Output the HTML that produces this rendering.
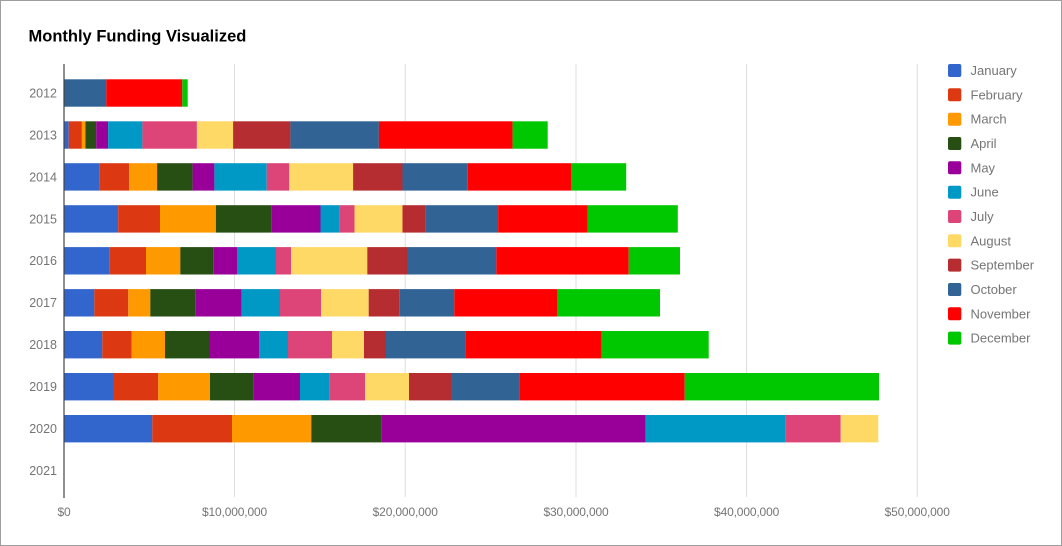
<!DOCTYPE html>
<html><head><meta charset="utf-8"><style>
html,body{margin:0;padding:0;background:#fff;}
svg{display:block;}
text{font-family:"Liberation Sans",Arial,sans-serif;}
</style></head><body>
<svg width="1062" height="546" viewBox="0 0 1062 546" xmlns="http://www.w3.org/2000/svg">
<rect x="0" y="0" width="1062" height="546" fill="#fff"/>
<rect x="0.5" y="0.5" width="1061" height="545" fill="none" stroke="#9e9e9e" stroke-width="1"/>
<text x="28.5" y="41.7" font-size="16.5" font-weight="bold" fill="#000">Monthly Funding Visualized</text>
<g stroke="#dedede" stroke-width="1">
<line x1="234.5" y1="64" x2="234.5" y2="497"/>
<line x1="405.2" y1="64" x2="405.2" y2="497"/>
<line x1="576" y1="64" x2="576" y2="497"/>
<line x1="746.6" y1="64" x2="746.6" y2="497"/>
<line x1="917.2" y1="64" x2="917.2" y2="497"/>
</g>
<g font-size="12.5" fill="#757575" text-anchor="end">
<text x="57" y="97.4">2012</text>
<text x="57" y="139.4">2013</text>
<text x="57" y="181.3">2014</text>
<text x="57" y="223.3">2015</text>
<text x="57" y="265.2">2016</text>
<text x="57" y="307.2">2017</text>
<text x="57" y="349.2">2018</text>
<text x="57" y="391.1">2019</text>
<text x="57" y="433.1">2020</text>
<text x="57" y="475">2021</text>
</g>
<g font-size="12" fill="#757575" text-anchor="middle" letter-spacing="-0.15">
<text x="64" y="516">$0</text>
<text x="234.5" y="516">$10,000,000</text>
<text x="405.2" y="516">$20,000,000</text>
<text x="576" y="516">$30,000,000</text>
<text x="746.6" y="516">$40,000,000</text>
<text x="917.2" y="516">$50,000,000</text>
</g>
<g font-size="13" fill="#757575">
<rect x="948" y="64" width="13.3" height="13" rx="2" fill="#3366cc"/><text x="970.5" y="75">January</text>
<rect x="948" y="88.3" width="13.3" height="13" rx="2" fill="#dc3912"/><text x="970.5" y="99.3">February</text>
<rect x="948" y="112.7" width="13.3" height="13" rx="2" fill="#ff9900"/><text x="970.5" y="123.7">March</text>
<rect x="948" y="137" width="13.3" height="13" rx="2" fill="#274e13"/><text x="970.5" y="148">April</text>
<rect x="948" y="161.3" width="13.3" height="13" rx="2" fill="#990099"/><text x="970.5" y="172.3">May</text>
<rect x="948" y="185.7" width="13.3" height="13" rx="2" fill="#0099c6"/><text x="970.5" y="196.7">June</text>
<rect x="948" y="210" width="13.3" height="13" rx="2" fill="#dd4477"/><text x="970.5" y="221">July</text>
<rect x="948" y="234.3" width="13.3" height="13" rx="2" fill="#ffd966"/><text x="970.5" y="245.3">August</text>
<rect x="948" y="258.6" width="13.3" height="13" rx="2" fill="#b52d30"/><text x="970.5" y="269.6">September</text>
<rect x="948" y="283" width="13.3" height="13" rx="2" fill="#316395"/><text x="970.5" y="294">October</text>
<rect x="948" y="307.3" width="13.3" height="13" rx="2" fill="#ff0000"/><text x="970.5" y="318.3">November</text>
<rect x="948" y="331.6" width="13.3" height="13" rx="2" fill="#00c800"/><text x="970.5" y="342.6">December</text>
</g>
<g>
<!-- 2012 -->
<rect x="64" y="79.3" width="42.3" height="27.4" fill="#316395"/>
<rect x="106.3" y="79.3" width="76" height="27.4" fill="#ff0000"/>
<rect x="182.3" y="79.3" width="5.4" height="27.4" fill="#00c800"/>
<!-- 2013 -->
<rect x="64" y="121.3" width="4.7" height="27.4" fill="#3366cc"/>
<rect x="68.7" y="121.3" width="13.2" height="27.4" fill="#dc3912"/>
<rect x="81.9" y="121.3" width="3.6" height="27.4" fill="#ff9900"/>
<rect x="85.5" y="121.3" width="10.7" height="27.4" fill="#274e13"/>
<rect x="96.2" y="121.3" width="11.9" height="27.4" fill="#990099"/>
<rect x="108.1" y="121.3" width="34.3" height="27.4" fill="#0099c6"/>
<rect x="142.4" y="121.3" width="54.5" height="27.4" fill="#dd4477"/>
<rect x="196.9" y="121.3" width="36.2" height="27.4" fill="#ffd966"/>
<rect x="233.1" y="121.3" width="57.3" height="27.4" fill="#b52d30"/>
<rect x="290.4" y="121.3" width="88.5" height="27.4" fill="#316395"/>
<rect x="378.9" y="121.3" width="133.7" height="27.4" fill="#ff0000"/>
<rect x="512.6" y="121.3" width="35.1" height="27.4" fill="#00c800"/>
<!-- 2014 -->
<rect x="64" y="163.2" width="35.8" height="27.4" fill="#3366cc"/>
<rect x="99.8" y="163.2" width="29.4" height="27.4" fill="#dc3912"/>
<rect x="129.2" y="163.2" width="27.9" height="27.4" fill="#ff9900"/>
<rect x="157.1" y="163.2" width="35.5" height="27.4" fill="#274e13"/>
<rect x="192.6" y="163.2" width="21.8" height="27.4" fill="#990099"/>
<rect x="214.4" y="163.2" width="52.3" height="27.4" fill="#0099c6"/>
<rect x="266.7" y="163.2" width="22.6" height="27.4" fill="#dd4477"/>
<rect x="289.3" y="163.2" width="63.8" height="27.4" fill="#ffd966"/>
<rect x="353.1" y="163.2" width="49.4" height="27.4" fill="#b52d30"/>
<rect x="402.5" y="163.2" width="65.2" height="27.4" fill="#316395"/>
<rect x="467.7" y="163.2" width="103.3" height="27.4" fill="#ff0000"/>
<rect x="571" y="163.2" width="55.2" height="27.4" fill="#00c800"/>
<!-- 2015 -->
<rect x="64" y="205.2" width="54.1" height="27.4" fill="#3366cc"/>
<rect x="118.1" y="205.2" width="41.9" height="27.4" fill="#dc3912"/>
<rect x="160" y="205.2" width="55.9" height="27.4" fill="#ff9900"/>
<rect x="215.9" y="205.2" width="55.9" height="27.4" fill="#274e13"/>
<rect x="271.8" y="205.2" width="48.7" height="27.4" fill="#990099"/>
<rect x="320.5" y="205.2" width="18.6" height="27.4" fill="#0099c6"/>
<rect x="339.1" y="205.2" width="15.4" height="27.4" fill="#dd4477"/>
<rect x="354.5" y="205.2" width="48" height="27.4" fill="#ffd966"/>
<rect x="402.5" y="205.2" width="22.9" height="27.4" fill="#b52d30"/>
<rect x="425.4" y="205.2" width="72.7" height="27.4" fill="#316395"/>
<rect x="498.1" y="205.2" width="89.7" height="27.4" fill="#ff0000"/>
<rect x="587.8" y="205.2" width="90" height="27.4" fill="#00c800"/>
<!-- 2016 -->
<rect x="64" y="247.1" width="45.7" height="27.4" fill="#3366cc"/>
<rect x="109.7" y="247.1" width="36.3" height="27.4" fill="#dc3912"/>
<rect x="146" y="247.1" width="34.3" height="27.4" fill="#ff9900"/>
<rect x="180.3" y="247.1" width="33" height="27.4" fill="#274e13"/>
<rect x="213.3" y="247.1" width="23.7" height="27.4" fill="#990099"/>
<rect x="237" y="247.1" width="39" height="27.4" fill="#0099c6"/>
<rect x="276" y="247.1" width="15" height="27.4" fill="#dd4477"/>
<rect x="291" y="247.1" width="76.3" height="27.4" fill="#ffd966"/>
<rect x="367.3" y="247.1" width="39.7" height="27.4" fill="#b52d30"/>
<rect x="407" y="247.1" width="89.3" height="27.4" fill="#316395"/>
<rect x="496.3" y="247.1" width="132.4" height="27.4" fill="#ff0000"/>
<rect x="628.7" y="247.1" width="51.3" height="27.4" fill="#00c800"/>
<!-- 2017 -->
<rect x="64" y="289.1" width="30.3" height="27.4" fill="#3366cc"/>
<rect x="94.3" y="289.1" width="34" height="27.4" fill="#dc3912"/>
<rect x="128.3" y="289.1" width="22" height="27.4" fill="#ff9900"/>
<rect x="150.3" y="289.1" width="45" height="27.4" fill="#274e13"/>
<rect x="195.3" y="289.1" width="46.4" height="27.4" fill="#990099"/>
<rect x="241.7" y="289.1" width="38.3" height="27.4" fill="#0099c6"/>
<rect x="280" y="289.1" width="41" height="27.4" fill="#dd4477"/>
<rect x="321" y="289.1" width="47.7" height="27.4" fill="#ffd966"/>
<rect x="368.7" y="289.1" width="30.6" height="27.4" fill="#b52d30"/>
<rect x="399.3" y="289.1" width="55" height="27.4" fill="#316395"/>
<rect x="454.3" y="289.1" width="102.7" height="27.4" fill="#ff0000"/>
<rect x="557" y="289.1" width="103" height="27.4" fill="#00c800"/>
<!-- 2018 -->
<rect x="64" y="331" width="38.3" height="27.4" fill="#3366cc"/>
<rect x="102.3" y="331" width="29.4" height="27.4" fill="#dc3912"/>
<rect x="131.7" y="331" width="33.3" height="27.4" fill="#ff9900"/>
<rect x="165" y="331" width="45" height="27.4" fill="#274e13"/>
<rect x="210" y="331" width="49.3" height="27.4" fill="#990099"/>
<rect x="259.3" y="331" width="28.7" height="27.4" fill="#0099c6"/>
<rect x="288" y="331" width="44" height="27.4" fill="#dd4477"/>
<rect x="332" y="331" width="32" height="27.4" fill="#ffd966"/>
<rect x="364" y="331" width="22" height="27.4" fill="#b52d30"/>
<rect x="386" y="331" width="79.3" height="27.4" fill="#316395"/>
<rect x="465.3" y="331" width="136.4" height="27.4" fill="#ff0000"/>
<rect x="601.7" y="331" width="107" height="27.4" fill="#00c800"/>
<!-- 2019 -->
<rect x="64" y="373" width="49" height="27.4" fill="#3366cc"/>
<rect x="113" y="373" width="45.3" height="27.4" fill="#dc3912"/>
<rect x="158.3" y="373" width="51.7" height="27.4" fill="#ff9900"/>
<rect x="210" y="373" width="43.7" height="27.4" fill="#274e13"/>
<rect x="253.7" y="373" width="46.3" height="27.4" fill="#990099"/>
<rect x="300" y="373" width="29.7" height="27.4" fill="#0099c6"/>
<rect x="329.7" y="373" width="35.3" height="27.4" fill="#dd4477"/>
<rect x="365" y="373" width="44" height="27.4" fill="#ffd966"/>
<rect x="409" y="373" width="42" height="27.4" fill="#b52d30"/>
<rect x="451" y="373" width="68.3" height="27.4" fill="#316395"/>
<rect x="519.3" y="373" width="165.4" height="27.4" fill="#ff0000"/>
<rect x="684.7" y="373" width="194.3" height="27.4" fill="#00c800"/>
<!-- 2020 -->
<rect x="64" y="415" width="88.3" height="27.4" fill="#3366cc"/>
<rect x="152.3" y="415" width="79.7" height="27.4" fill="#dc3912"/>
<rect x="232" y="415" width="79.3" height="27.4" fill="#ff9900"/>
<rect x="311.3" y="415" width="70.4" height="27.4" fill="#274e13"/>
<rect x="381.7" y="415" width="264" height="27.4" fill="#990099"/>
<rect x="645.7" y="415" width="140" height="27.4" fill="#0099c6"/>
<rect x="785.7" y="415" width="55" height="27.4" fill="#dd4477"/>
<rect x="840.7" y="415" width="37.6" height="27.4" fill="#ffd966"/>
</g>
<line x1="64" y1="64" x2="64" y2="498" stroke="#444" stroke-width="1.2"/>
</svg>
</body></html>
